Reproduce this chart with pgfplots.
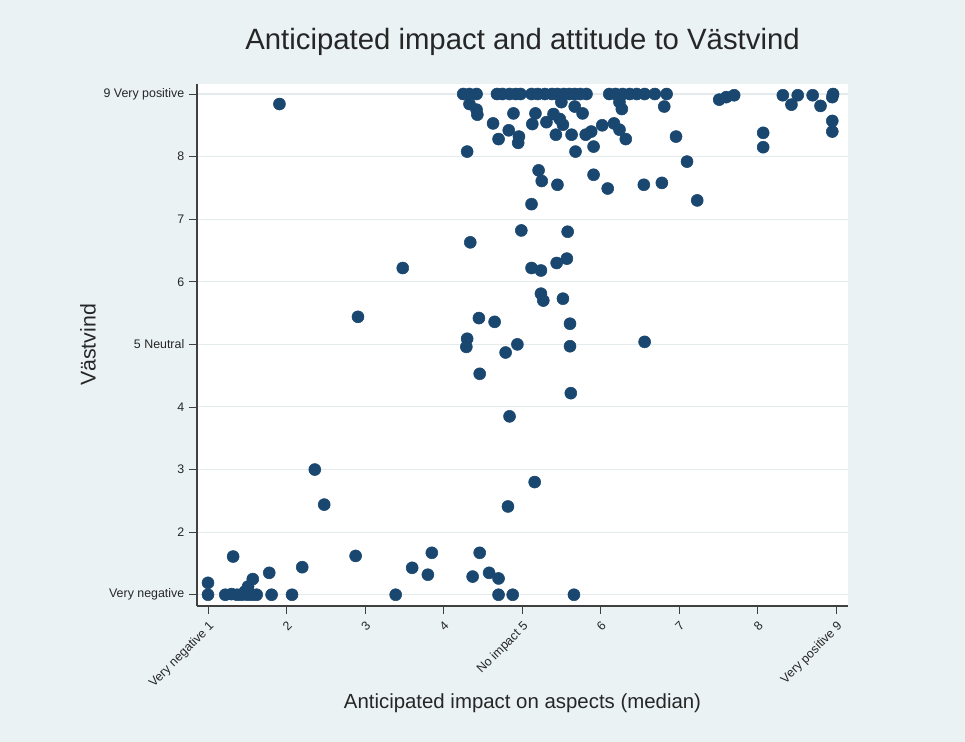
\documentclass[border=0pt]{standalone}
\usepackage{pgfplots}
\pgfplotsset{compat=1.18}
\usepackage{fontspec}
\setmainfont{Liberation Sans}
\definecolor{bg}{HTML}{EAF2F3}
\definecolor{navy}{HTML}{1A476F}
\definecolor{gridc}{HTML}{E4EBED}
\pgfplotstableread{
x y
4.25 9.0
4.33 9.0
4.42 9.0
4.68 9.0
4.75 9.0
4.84 9.0
4.92 9.0
4.98 9.0
5.12 9.0
5.20 9.0
5.29 9.0
5.38 9.0
5.45 9.0
5.53 9.0
5.60 9.0
5.67 9.0
5.74 9.0
5.82 9.0
6.11 9.0
6.19 9.0
6.28 9.0
6.37 9.0
6.46 9.0
6.56 9.0
6.69 9.0
6.84 9.0
7.51 8.91
7.60 8.95
7.70 8.98
8.32 8.98
8.51 8.98
8.70 8.98
8.95 8.95
8.96 9.0
4.33 8.84
4.42 8.75
4.43 8.67
4.89 8.69
5.17 8.69
5.40 8.68
5.50 8.87
5.67 8.80
5.77 8.69
6.24 8.87
6.27 8.76
6.81 8.80
8.43 8.83
8.80 8.81
1.91 8.84
4.63 8.53
4.83 8.42
5.13 8.52
5.31 8.55
5.48 8.60
5.52 8.51
4.70 8.28
4.96 8.32
4.95 8.22
5.43 8.35
5.63 8.35
5.81 8.35
5.88 8.40
6.02 8.50
6.17 8.53
6.24 8.43
6.32 8.28
6.96 8.32
8.95 8.57
8.95 8.40
8.07 8.38
8.07 8.15
4.30 8.08
5.68 8.08
5.91 8.16
7.10 7.92
5.21 7.78
5.25 7.61
5.45 7.55
5.91 7.71
6.09 7.49
6.55 7.55
6.78 7.58
7.23 7.30
5.12 7.24
4.99 6.82
5.58 6.80
4.34 6.63
3.48 6.22
5.12 6.22
5.24 6.18
5.44 6.30
5.57 6.37
5.24 5.81
5.27 5.70
5.52 5.73
2.91 5.44
4.45 5.42
4.65 5.36
5.61 5.33
4.30 5.09
4.29 4.96
4.94 5.00
4.79 4.87
5.61 4.97
6.56 5.04
4.46 4.53
5.62 4.22
4.84 3.85
2.36 3.00
2.48 2.44
4.82 2.41
5.16 2.80
1.32 1.61
2.88 1.62
3.85 1.67
4.46 1.67
2.20 1.44
3.60 1.43
1.78 1.35
3.80 1.32
4.37 1.29
4.58 1.35
4.70 1.26
1.00 1.19
1.57 1.25
1.51 1.13
1.47 1.05
1.00 1.00
1.22 1.00
1.30 1.01
1.37 1.00
1.43 1.00
1.50 1.00
1.56 1.00
1.62 1.00
1.81 1.00
2.07 1.00
3.39 1.00
4.70 1.00
4.88 1.00
5.66 1.00
}\pts
\begin{document}
\begin{tikzpicture}
\fill[bg] (0,0) rectangle (723.75pt,556.5pt);
\begin{axis}[
  at={(147.75pt,102pt)}, anchor=south west,
  scale only axis, width=488.25pt, height=391.5pt,
  xmin=0.86, xmax=9.15, ymin=0.82, ymax=9.16,
  axis background/.style={fill=white},
  axis x line=bottom, axis y line=left,
  axis line style={-, black!75, line width=0.8pt},
  tick align=outside, major tick length=6pt,
  tick style={black!75, line width=0.6pt},
  xtick={1,2,3,4,5,6,7,8,9}, ytick={1,2,3,4,5,6,7,8,9},
  xticklabels={Very negative 1,2,3,4,No impact 5,6,7,8,Very positive 9},
  yticklabels={Very negative,2,3,4,5 Neutral,6,7,8,9 Very positive},
  ymajorgrids, major grid style={gridc, line width=0.8pt},
  ticklabel style={font=\fontsize{9.3}{11}\selectfont, text=black!85},
  xticklabel style={rotate=45, anchor=north east},
  title={Anticipated impact and attitude to Västvind},
  title style={at={(axis description cs:0.5,1.0651)}, anchor=center, font=\fontsize{22}{26}\selectfont, text=black!85},
  xlabel={Anticipated impact on aspects (median)},
  xlabel style={at={(axis description cs:0.5,-0.1858)}, anchor=center, font=\fontsize{15.3}{18}\selectfont, text=black!85},
  ylabel={Västvind},
  ylabel style={at={(axis description cs:-0.1674,0.5)}, anchor=center, font=\fontsize{16}{19}\selectfont, text=black!85},
]
\addplot[only marks, mark=*, mark size=4.5pt, mark options={fill=navy, draw=navy}] table[x=x,y=y] {\pts};
\end{axis}
\pgfresetboundingbox
\useasboundingbox (0,0) rectangle (723.75pt,556.5pt);
\end{tikzpicture}
\end{document}
